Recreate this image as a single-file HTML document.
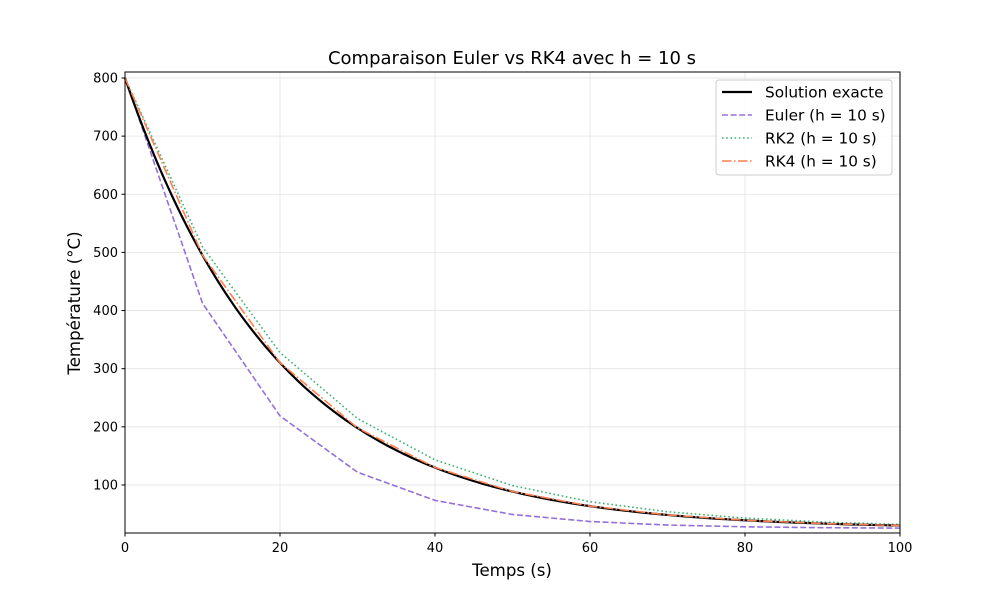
<!DOCTYPE html>
<html><head><meta charset="utf-8"><style>
body{margin:0;background:#fff;}
svg text{font-family:"DejaVu Sans","Liberation Sans",sans-serif;}
</style></head><body>
<svg id="s" width="1000" height="600" xmlns="http://www.w3.org/2000/svg">
<rect width="1000" height="600" fill="#fff"/>
<g id="grid" stroke="#e3e3e3" stroke-width="0.8"></g>
<g id="series" fill="none"></g>
<rect x="125" y="72" width="775" height="461" fill="none" stroke="#000" stroke-width="1"/>
<g id="ticks" font-size="13" fill="#000"></g>
<text x="512" y="64" font-size="18" text-anchor="middle">Comparaison Euler vs RK4 avec h = 10 s</text>
<text x="512" y="576" font-size="16.6" text-anchor="middle">Temps (s)</text>
<text transform="translate(80,303) rotate(-90)" font-size="16.6" text-anchor="middle">Température (°C)</text>
<g>
<rect x="716" y="80" width="176" height="95" rx="3" fill="#fff" fill-opacity="0.8" stroke="#ccc"/>
<line x1="722" y1="92" x2="752" y2="92" stroke="#000" stroke-width="2.2"/>
<line x1="722" y1="115" x2="752" y2="115" stroke="#9370DB" stroke-width="1.6" stroke-dasharray="6,2.6"/>
<line x1="722" y1="138" x2="752" y2="138" stroke="#3CB371" stroke-width="1.6" stroke-dasharray="1.6,2.6"/>
<line x1="722" y1="161" x2="752" y2="161" stroke="#FF7F50" stroke-width="1.6" stroke-dasharray="9.6,2.4,1.6,2.4"/>
<text x="765" y="97.5" font-size="15.3">Solution exacte</text>
<text x="765" y="120.5" font-size="15.3">Euler (h = 10 s)</text>
<text x="765" y="143.5" font-size="15.3">RK2 (h = 10 s)</text>
<text x="765" y="166.5" font-size="15.3">RK4 (h = 10 s)</text>
</g>
</svg>
<script>
var NS="http://www.w3.org/2000/svg";
function X(t){return 125+7.75*t;}
function Y(v){return 543.1-0.5814*v;}
function el(tag,a,p){var e=document.createElementNS(NS,tag);for(var k in a)e.setAttribute(k,a[k]);p.appendChild(e);return e;}
var g=document.getElementById('grid'),tk=document.getElementById('ticks'),se=document.getElementById('series');
for(var t=0;t<=100;t+=20){var x=X(t);el('line',{x1:x,y1:72,x2:x,y2:533},g);el('line',{x1:x,y1:533,x2:x,y2:536.5,stroke:'#000'},tk);var tx=el('text',{x:x,y:552,'text-anchor':'middle'},tk);tx.textContent=t;}
for(var v=100;v<=800;v+=100){var y=Y(v);el('line',{x1:125,y1:y,x2:900,y2:y},g);el('line',{x1:121.5,y1:y,x2:125,y2:y,stroke:'#000'},tk);var ty=el('text',{x:118,y:y+4.5,'text-anchor':'end'},tk);ty.textContent=v;}
function path(pts){return pts.map(function(p,i){return (i?'L':'M')+X(p[0]).toFixed(2)+','+Y(p[1]).toFixed(2);}).join('');}
var ex=[];for(var t=0;t<=100;t+=0.5)ex.push([t,25+775*Math.exp(-0.05*t)]);
function disc(f){var a=[];for(var n=0;n<=10;n++)a.push([10*n,25+775*Math.pow(f,n)]);return a;}
el('path',{d:path(disc(0.5)),stroke:'#9370DB','stroke-width':1.6,'stroke-dasharray':'6,2.6'},se);
el('path',{d:path(disc(0.625)),stroke:'#3CB371','stroke-width':1.6,'stroke-dasharray':'1.6,2.6'},se);
el('path',{d:path(ex),stroke:'#000','stroke-width':2.2},se);
el('path',{d:path(disc(1-0.5+0.125-0.5*0.5*0.5/6+Math.pow(0.5,4)/24)),stroke:'#FF7F50','stroke-width':1.6,'stroke-dasharray':'9.6,2.4,1.6,2.4'},se);
</script>
</body></html>
